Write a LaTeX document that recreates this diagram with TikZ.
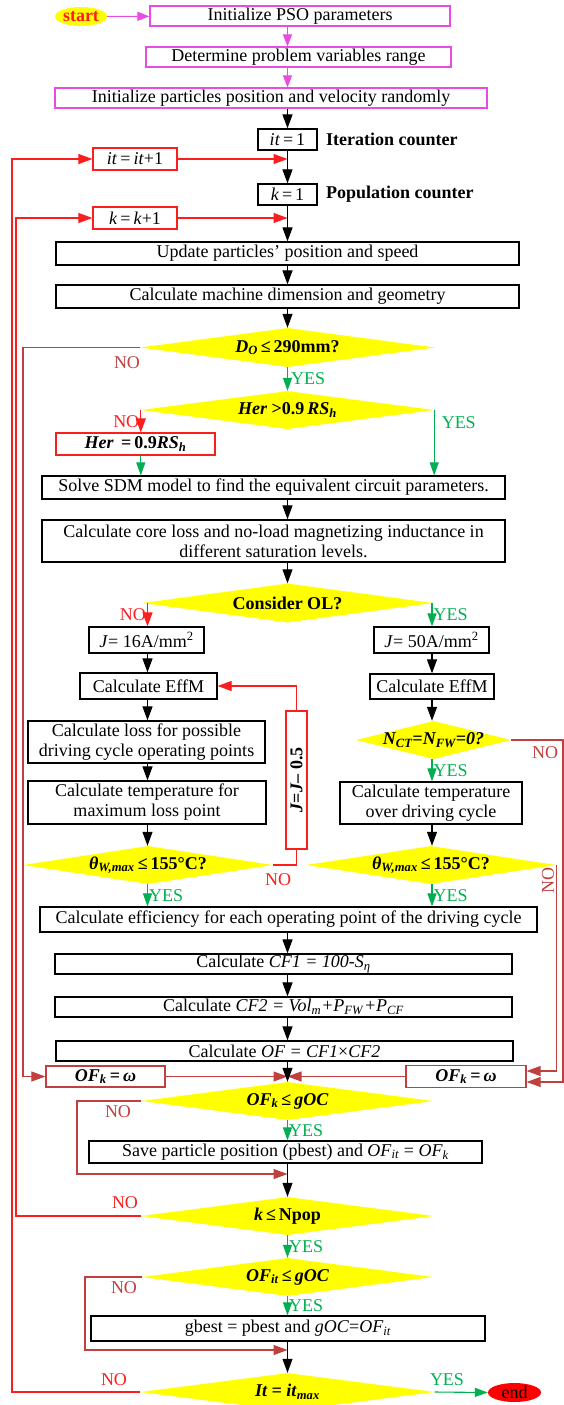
\documentclass[tikz,border=0pt]{standalone}
\usepackage{fontspec}
\setmainfont{Liberation Serif}
\usetikzlibrary{arrows.meta, positioning, calc, shapes.geometric}
\definecolor{psomag}{RGB}{232,76,226}
\definecolor{loopred}{RGB}{250,30,30}
\definecolor{nored}{RGB}{192,64,64}
\definecolor{yesgreen}{RGB}{0,176,80}
\definecolor{decyellow}{RGB}{255,255,0}

\begin{document}
\begin{tikzpicture}[
    x=1pt, y=-1pt,
    font=\fontsize{18}{20}\selectfont,
    box/.style={draw=black, fill=white, line width=1.2pt, inner sep=0pt, align=center},
    psobox/.style={box, draw=psomag},
    redbox/.style={box, draw=loopred},
    nobox/.style={box, draw=nored},
    decision/.style={diamond, fill=decyellow, inner sep=0pt},
    arrow/.style={-{Triangle[length=14pt, width=10pt]}, line width=1.1pt},
    psoarrow/.style={arrow, psomag, -{Triangle[length=12pt, width=9pt]}},
    yesarrow/.style={arrow, yesgreen, -{Triangle[length=13pt, width=9pt]}},
    looparrow/.style={arrow, loopred},
    loopline/.style={line width=1.1pt, loopred},
    noarrow/.style={arrow, nored},
    yeslbl/.style={text=yesgreen, inner sep=1pt},
    nolbl/.style={text=nored, inner sep=1pt},
    loopno/.style={text=loopred, inner sep=1pt}
]
\useasboundingbox (0,0) rectangle (564,1405);

% column axes
\coordinate (ax) at (287.5,0);
\coordinate (lax) at (147.5,0);
\coordinate (rax) at (432,0);

% initialisation
\node[ellipse, fill=decyellow, minimum width=52, minimum height=19, inner sep=0pt, text=loopred, font=\fontsize{18}{20}\selectfont\bfseries] (start) at (81,16.5) {start};
\node[psobox, minimum width=300, minimum height=20] (initpso) at (300,16) {Initialize PSO parameters};
\node[psobox, minimum width=305, minimum height=20] (range) at (298.5,57) {Determine problem variables range};
\node[psobox, minimum width=432, minimum height=20] (initpart) at (271,98) {Initialize particles position and velocity randomly};
\draw[psoarrow] (start) -- (initpso);
\draw[psoarrow] (initpso.south -| ax) -- (range.north -| ax);
\draw[psoarrow] (range.south -| ax) -- (initpart.north -| ax);

% counters
\node[box, minimum width=59, minimum height=21] (it1) at (287.5,139.5) {\textit{it}\,=\,1};
\node[right=5pt of it1, font=\fontsize{18}{20}\selectfont\bfseries] (itlbl) {Iteration counter};
\node[box, minimum width=59, minimum height=21] (k1) at (287.5,194.5) {\textit{k}\,=\,1};
\node[right=5pt of k1, font=\fontsize{18}{20}\selectfont\bfseries] (klbl) {Population counter};
\node[redbox, minimum width=84, minimum height=22] (itinc) at (135,159) {\textit{it}\,=\,\textit{it}+1};
\node[redbox, minimum width=84, minimum height=22] (kinc) at (135,218) {\textit{k}\,=\,\textit{k}+1};
\coordinate (itjoin) at (287.5,159);
\coordinate (kjoin) at (287.5,218);
\draw[arrow] (initpart.south -| ax) -- (it1.north);
\draw[arrow] (it1) -- (k1);
\draw[looparrow] (itinc) -- (itjoin);
\draw[looparrow] (kinc) -- (kjoin);

% geometry
\node[box, minimum width=463, minimum height=23] (update) at (287.5,253.5) {Update particles’ position and speed};
\node[box, minimum width=463, minimum height=23] (geom) at (287.5,296.5) {Calculate machine dimension and geometry};
\draw[arrow] (k1) -- (update);
\draw[arrow] (update) -- (geom);

\node[decision, minimum width=295, minimum height=39, label={center:{\bfseries\textit{D}\textsubscript{\textit{O}}\,≤\,290mm?}}] (dodia) at (287.5,347.5) {};
\node[decision, minimum width=293, minimum height=38, label={center:{\bfseries\textit{Her} >0.9\,\textit{RS}\textsubscript{\textit{h}}}}] (herdia) at (287.5,410) {};
\node[redbox, minimum width=159, minimum height=22] (herset) at (135.5,444) {\bfseries\textit{Her} \,=\,0.9\textit{RS}\textsubscript{\textit{h}}};
\draw[arrow] (geom) -- (dodia);
\draw[yesarrow] (dodia) -- node[right=2pt, yeslbl] (doyes) {YES} (herdia);
\draw[looparrow] (herdia.west) -- node[left, loopno] (herno) {NO} (herdia.west |- herset.north);

% circuit model
\node[box, minimum width=463, minimum height=23] (sdm) at (273.5,487.5) {Solve SDM model to find the equivalent circuit parameters.};
\node[box, minimum width=463, minimum height=42] (core) at (273.5,541) {Calculate core loss and no-load magnetizing inductance in\\different saturation levels.};
\draw[yesarrow] (herset.south -| herdia.west) -- (herdia.west |- sdm.north);
\draw[yesarrow] (herdia.east) -- node[pos=0.2, right=6pt, yeslbl] (heryes) {YES} (herdia.east |- sdm.north);
\draw[arrow] (sdm.south -| ax) -- (core.north -| ax);

\node[decision, minimum width=291, minimum height=39, label={center:{\bfseries Consider OL?}}] (oldia) at (287.5,603) {};
\draw[arrow] (core.south -| ax) -- (oldia.north);

% left branch (no overload)
\node[box, minimum width=115, minimum height=26] (jlow) at (146.5,640) {\textit{J}= 16A/mm\textsuperscript{2}};
\node[box, minimum width=137, minimum height=26] (effl) at (148.5,686) {Calculate EffM};
\node[box, minimum width=237, minimum height=42] (lossl) at (146.5,742) {Calculate loss for possible\\driving cycle operating points};
\node[box, minimum width=238, minimum height=43] (templ) at (147,802.5) {Calculate temperature for\\maximum loss point};
\node[decision, minimum width=250, minimum height=38, label={center:{\bfseries\textit{θ}\textsubscript{\textit{W,max}}\,≤\,155°C?}}] (thl) at (148,865) {};
\node[redbox, rotate=90, minimum width=138, minimum height=21] (jdec) at (296.5,780) {\bfseries\textit{J}=\textit{J}– 0.5};
\node[loopno] (thlno) at (278,880) {NO};
\draw[looparrow] (oldia.west -| lax) -- node[left, loopno] (olno) {NO} (jlow.north -| lax);
\draw[arrow] (jlow.south -| lax) -- (effl.north -| lax);
\draw[arrow] (effl.south -| lax) -- (lossl.north -| lax);
\draw[arrow] (lossl.south -| lax) -- (templ.north -| lax);
\draw[arrow] (templ.south -| lax) -- (thl.north -| lax);
\draw[loopline] (thl.east) -| (jdec.west);
\draw[looparrow] (jdec.east) |- (effl.east);

% right branch (overload)
\node[box, minimum width=115, minimum height=26] (jhigh) at (431.5,640) {\textit{J}= 50A/mm\textsuperscript{2}};
\node[box, minimum width=124, minimum height=25] (effr) at (432,686.5) {Calculate EffM};
\node[decision, minimum width=155, minimum height=38, label={center:{\bfseries\itshape N\textsubscript{CT}=N\textsubscript{FW}=0?}}] (ncdia) at (433.5,740) {};
\node[box, minimum width=182, minimum height=42] (tempr) at (431,803) {Calculate temperature\\over driving cycle};
\node[decision, minimum width=250, minimum height=38, label={center:{\bfseries\textit{θ}\textsubscript{\textit{W,max}}\,≤\,155°C?}}] (thr) at (431,865) {};
\node[nolbl] (ncno) at (545,753) {NO};
\node[nolbl, rotate=90] (thrno) at (548,880) {NO};
\draw[yesarrow] (oldia.east -| rax) -- node[right, yeslbl] (olyes) {YES} (jhigh.north -| rax);
\draw[arrow] (jhigh.south -| rax) -- (effr.north -| rax);
\draw[arrow] (effr.south -| rax) -- (ncdia.north -| rax);
\draw[yesarrow] (ncdia.south -| rax) -- node[right, yeslbl] (ncyes) {YES} (tempr.north -| rax);
\draw[arrow] (tempr.south -| rax) -- (thr.north -| rax);

% cost functions
\node[box, minimum width=497, minimum height=25] (eff) at (288.5,919.5) {Calculate efficiency for each operating point of the driving cycle};
\node[box, minimum width=457, minimum height=20] (cf1) at (283.5,964) {Calculate \textit{CF1 = 100-S}\textsubscript{\textit{η}}};
\node[box, minimum width=457, minimum height=20] (cf2) at (283.5,1007) {Calculate \textit{CF2 = Vol}\textsubscript{\textit{m}}\textit{+P}\textsubscript{\textit{FW}}\textit{+P}\textsubscript{\textit{CF}}};
\node[box, minimum width=457, minimum height=20] (ofcalc) at (284.5,1051) {Calculate \textit{OF = CF1}×\textit{CF2}};
\draw[yesarrow] (thl.south -| lax) -- node[right, yeslbl] (thlyes) {YES} (eff.north -| lax);
\draw[yesarrow] (thr.south -| rax) -- node[right, yeslbl] (thryes) {YES} (eff.north -| rax);
\draw[arrow] (eff.south -| ax) -- (cf1.north -| ax);
\draw[arrow] (cf1.south -| ax) -- (cf2.north -| ax);
\draw[arrow] (cf2.south -| ax) -- (ofcalc.north -| ax);

% penalty boxes
\node[nobox, minimum width=119, minimum height=21] (ofl) at (105.5,1076.5) {\bfseries\textit{OF}\textsubscript{\textit{k}}\,=\,\textit{ω}};
\node[nobox, minimum width=120, minimum height=22] (ofr) at (466,1076.5) {\bfseries\textit{OF}\textsubscript{\textit{k}}\,=\,\textit{ω}};
\coordinate (ofjoin) at (287.5,1076.5);
\coordinate (dnox) at (23,0);
\coordinate (edgex) at (563,0);
\draw[noarrow] (ofl) -- (ofjoin);
\draw[noarrow] (ofr) -- (ofjoin);
\draw[noarrow] (dodia.west) -- (dodia.west -| dnox) |- (ofl.west);
\node[nolbl] (dono) at (127,363) {NO};
\draw[noarrow] (thr.east) |- ($(ofr.east)+(0,-5.5)$);
\draw[noarrow] (ncdia.east) -- (ncdia.east -| edgex) |- ($(ofr.east)+(0,5.5)$);

% personal best
\node[decision, minimum width=292, minimum height=38, label={center:{\bfseries\textit{OF}\textsubscript{\textit{k}}\,≤\,\textit{gOC}}}] (gocdia) at (287.5,1101) {};
\node[box, minimum width=393, minimum height=22] (pbest) at (285.5,1152) {Save particle position (pbest) and \textit{OF}\textsubscript{\textit{it}} = \textit{OF}\textsubscript{\textit{k}}};
\coordinate (gocx) at (77,0);
\coordinate (pbjoin) at (287.5,1174);
\draw[arrow] (ofcalc.south -| ax) -- (gocdia.north);
\draw[yesarrow] (gocdia.south) -- node[right, yeslbl] (gocyes) {YES} (pbest.north -| ax);
\draw[noarrow] (gocdia.west) -- (gocdia.west -| gocx) |- (pbjoin);
\node[nolbl] (gocno) at (118,1112) {NO};

% population loop
\node[decision, minimum width=293, minimum height=38, label={center:{\bfseries\textit{k}\,≤\,Npop}}] (popdia) at (287.5,1216) {};
\coordinate (kx) at (16,0);
\draw[arrow] (pbest.south -| ax) -- (popdia.north);
\draw[looparrow] (popdia.west) -- (popdia.west -| kx) |- (kinc.west);
\node[loopno] (popno) at (125,1203) {NO};

% global best
\node[decision, minimum width=291, minimum height=38, label={center:{\bfseries\textit{OF}\textsubscript{\textit{it}}\,≤\,\textit{gOC}}}] (gbdia) at (287.5,1277) {};
\node[box, minimum width=394, minimum height=25] (gbest) at (288,1328.5) {gbest = pbest and \textit{gOC}=\textit{OF}\textsubscript{\textit{it}}};
\coordinate (gbx) at (85,0);
\coordinate (gbjoin) at (287.5,1350);
\draw[yesarrow] (popdia.south) -- node[right, yeslbl] (popyes) {YES} (gbdia.north);
\draw[yesarrow] (gbdia.south) -- node[right, yeslbl] (gbyes) {YES} (gbest.north -| ax);
\draw[noarrow] (gbdia.west) -- (gbdia.west -| gbx) |- (gbjoin);
\node[nolbl] (gbno) at (124,1288) {NO};

% iteration loop
\node[decision, minimum width=294, minimum height=38, label={center:{\bfseries\textit{It = it}\textsubscript{\textit{max}}}}] (itdia) at (287.5,1392) {};
\node[ellipse, fill=red, minimum width=53, minimum height=19, inner sep=0pt] (stop) at (514.5,1392.5) {end};
\coordinate (itx) at (12,0);
\draw[arrow] (gbest.south -| ax) -- (itdia.north);
\draw[looparrow] (itdia.west) -- (itdia.west -| itx) |- (itinc.west);
\node[loopno] (itno) at (114,1380) {NO};
\draw[yesarrow] (itdia.east) -- (stop.west);
\node[yeslbl] (ityes) at (447,1380) {YES};

\end{tikzpicture}
\end{document}
